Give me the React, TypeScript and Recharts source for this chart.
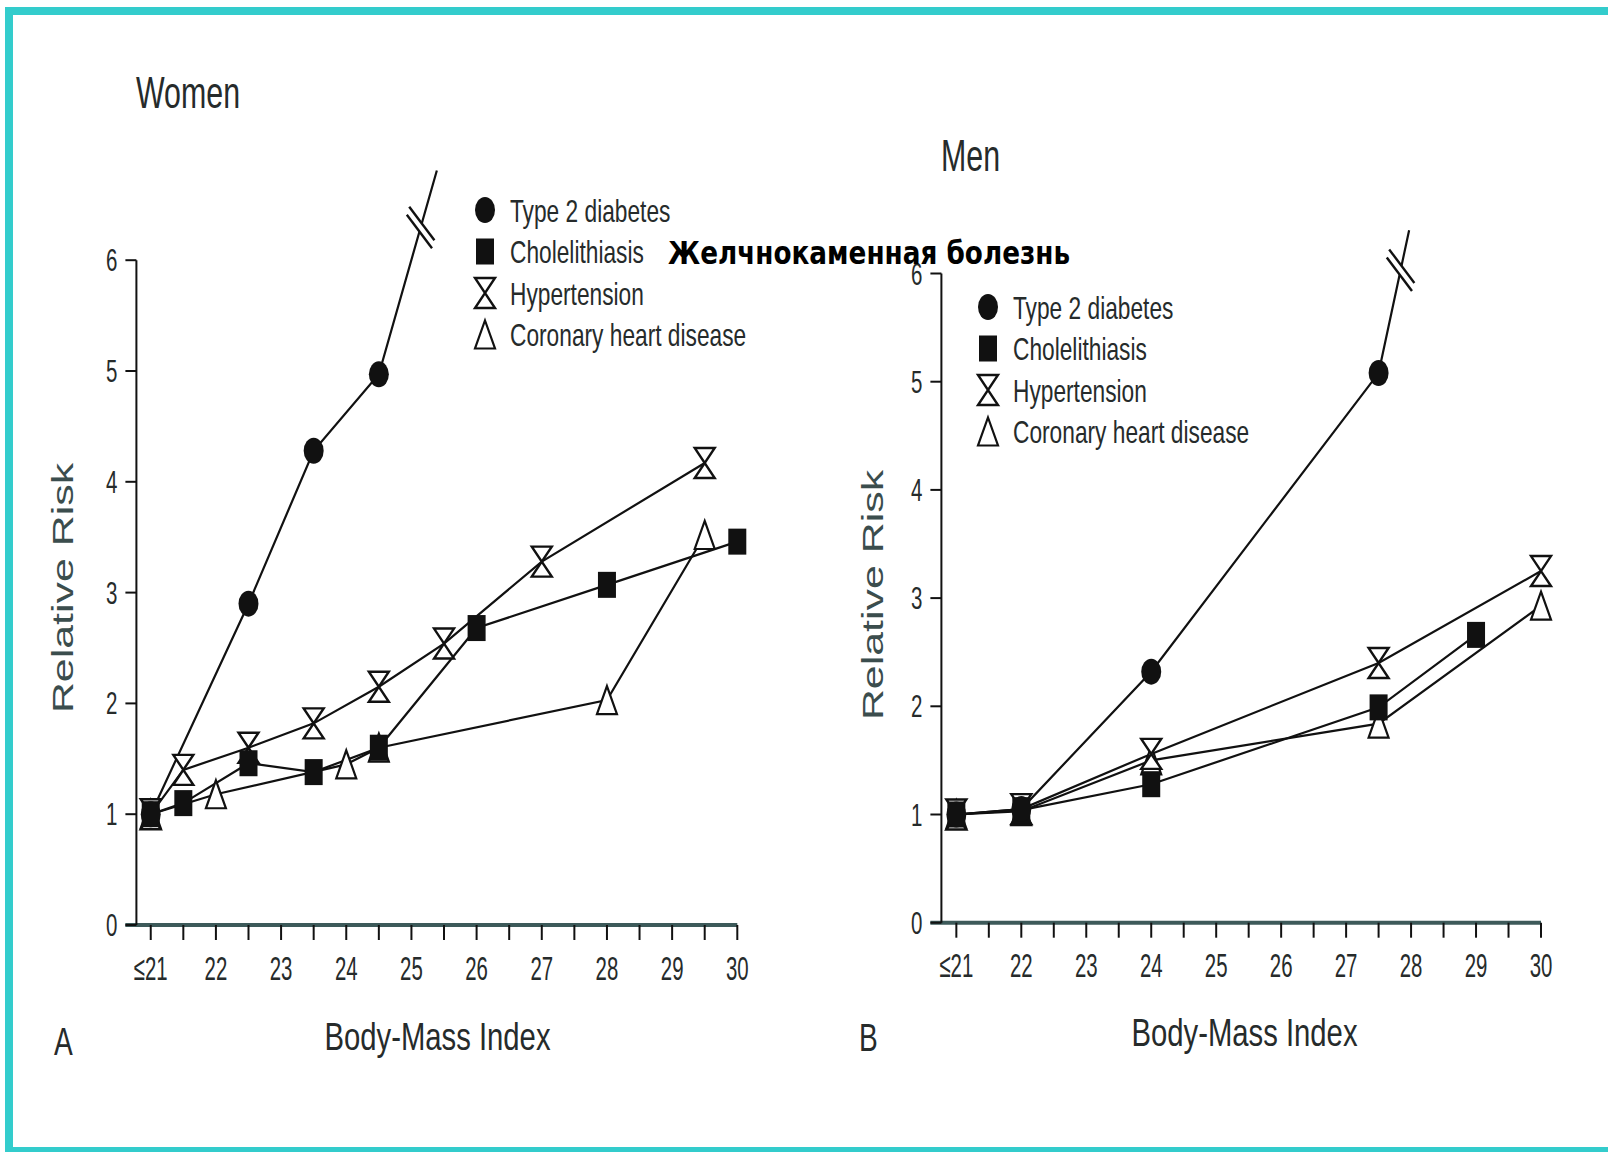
import { LineChart, Line, XAxis, YAxis, ReferenceLine, ReferenceDot, Legend } from 'recharts'

// values (relative risk by BMI)
const BMI_TICKS = [21, 21.5, 22, 22.5, 23, 23.5, 24, 24.5, 25, 25.5, 26, 26.5, 27, 27.5, 28, 28.5, 29, 29.5, 30]
const RR_TICKS = [0, 1, 2, 3, 4, 5, 6]

const W_DIAB_BMI = [21, 22.5, 23.5, 24.5]
const W_DIAB_RR = [1.0, 2.9, 4.28, 4.97]
const W_DIAB_TAIL = [25.39, 6.81]
const W_CHOL_BMI = [21, 21.5, 22.5, 23.5, 24.5, 26, 28, 30]
const W_CHOL_RR = [1.0, 1.1, 1.46, 1.38, 1.6, 2.68, 3.07, 3.46]
const W_HYP_BMI = [21, 21.5, 22.5, 23.5, 24.5, 25.5, 27, 29.5]
const W_HYP_RR = [1.0, 1.4, 1.6, 1.82, 2.15, 2.54, 3.28, 4.17]
const W_CHD_BMI = [21, 22, 24, 24.5, 28, 29.5]
const W_CHD_RR = [1.0, 1.18, 1.45, 1.6, 2.03, 3.52]

const M_DIAB_BMI = [21, 22, 24, 27.5]
const M_DIAB_RR = [1.0, 1.05, 2.32, 5.08]
const M_DIAB_TAIL = [27.97, 6.4]
const M_CHOL_BMI = [21, 22, 24, 27.5, 29]
const M_CHOL_RR = [1.0, 1.04, 1.28, 1.99, 2.66]
const M_HYP_BMI = [21, 22, 24, 27.5, 30]
const M_HYP_RR = [1.0, 1.05, 1.56, 2.4, 3.25]
const M_CHD_BMI = [21, 22, 24, 27.5, 30]
const M_CHD_RR = [1.0, 1.03, 1.5, 1.84, 2.93]

const LEGEND_ORDER = ['Type 2 diabetes', 'Cholelithiasis', 'Hypertension', 'Coronary heart disease']
const KIND: Record<string, string> = {
  'Type 2 diabetes': 'circle',
  Cholelithiasis: 'square',
  Hypertension: 'hourglass',
  'Coronary heart disease': 'triangle',
}

const FONT = '"Liberation Sans", Arial, Helvetica, sans-serif'
const INK = '#262b2b'
const BREAK_AT = 0.72

const toPoints = (bmi: number[], rr: number[], tail?: number[]) => {
  const pts = bmi.map((b, i) => ({ bmi: b, rr: rr[i], tail: false }))
  if (tail) pts.push({ bmi: tail[0], rr: tail[1], tail: true })
  return pts
}

const breakPoint = (bmi: number[], rr: number[], tail: number[]) => {
  const b0 = bmi[bmi.length - 1]
  const r0 = rr[rr.length - 1]
  return { x: b0 + BREAK_AT * (tail[0] - b0), y: r0 + BREAK_AT * (tail[1] - r0) }
}

function CondText({ x, y, size, sx = 0.62, anchor = 'start', fill = INK, children }: any) {
  return (
    <text
      transform={`translate(${x} ${y}) scale(${sx} 1)`}
      fontFamily={FONT}
      fontSize={size}
      textAnchor={anchor}
      fill={fill}
    >
      {children}
    </text>
  )
}

function Marker({ kind, cx, cy }: { kind: string; cx: number; cy: number }) {
  if (kind === 'circle') return <ellipse cx={cx} cy={cy} rx={10} ry={13} fill="#111" />
  if (kind === 'square') return <rect x={cx - 9} y={cy - 13} width={18} height={26} fill="#111" />
  if (kind === 'hourglass') {
    const w = 10
    const h = 15
    return (
      <path
        d={`M${cx - w},${cy - h}H${cx + w}L${cx - w},${cy + h}H${cx + w}Z`}
        fill="#fff"
        stroke="#111"
        strokeWidth={2.4}
      />
    )
  }
  return (
    <path
      d={`M${cx},${cy - 14}L${cx + 10},${cy + 14}H${cx - 10}Z`}
      fill="#fff"
      stroke="#111"
      strokeWidth={2.2}
    />
  )
}

const dotFor = (kind: string) => (p: any) => {
  if (p.payload?.tail || p.cx == null) return <g key={`${kind}-${p.index}`} />
  return <Marker key={`${kind}-${p.index}`} kind={kind} cx={p.cx} cy={p.cy} />
}

function BreakMark(p: any) {
  const { cx, cy } = p
  const ux = 0.6
  const uy = 0.8
  const half = 21
  const ox = 1.2
  const oy = -4
  const seg = (dx: number, dy: number) => (
    <line
      x1={cx + dx - ux * half}
      y1={cy + dy - uy * half}
      x2={cx + dx + ux * half}
      y2={cy + dy + uy * half}
      stroke="#111"
      strokeWidth={2.4}
    />
  )
  return (
    <g>
      <polygon
        points={`${cx + ox - ux * 8},${cy + oy - uy * 8} ${cx + ox + ux * 8},${cy + oy + uy * 8} ${cx - ox + ux * 8},${cy - oy + uy * 8} ${cx - ox - ux * 8},${cy - oy - uy * 8}`}
        fill="#fff"
      />
      {seg(ox, oy)}
      {seg(-ox, -oy)}
    </g>
  )
}

const XTick = (dyBase: number) => (props: any) => {
  const { x, y, payload } = props
  const v = payload.value
  if (!Number.isInteger(v)) return <g />
  return (
    <CondText x={x} y={y + dyBase} size={34} sx={0.6} anchor="middle">
      {v === 21 ? '≤21' : String(v)}
    </CondText>
  )
}

const YTick = (props: any) => {
  const { x, y, payload } = props
  return (
    <CondText x={x} y={y + 11} size={32} sx={0.64} anchor="end">
      {payload.value}
    </CondText>
  )
}

function LegendBox(props: any) {
  const payload = props.payload ?? []
  const rows = [...payload].sort(
    (a: any, b: any) => LEGEND_ORDER.indexOf(a.value) - LEGEND_ORDER.indexOf(b.value),
  )
  return (
    <svg width={300} height={170} style={{ overflow: 'visible', display: 'block' }}>
      {rows.map((e: any, i: number) => (
        <g key={e.value}>
          <Marker kind={KIND[e.value]} cx={15} cy={20 + i * 41.5} />
          <CondText x={40} y={20 + i * 41.5 + 11.5} size={32} sx={0.71}>
            {e.value}
          </CondText>
        </g>
      ))}
    </svg>
  )
}

interface PanelProps {
  width: number
  margin: { top: number; right: number; bottom: number; left: number }
  xMin: number
  tickDy: number
  legendPos: { left: number; top: number }
  diab: any[]
  chol: any[]
  hyp: any[]
  chd: any[]
  brk: { x: number; y: number }
}

function Panel({ width, margin, xMin, tickDy, legendPos, diab, chol, hyp, chd, brk }: PanelProps) {
  return (
    <LineChart width={width} height={1152} margin={margin}>
      <XAxis
        type="number"
        dataKey="bmi"
        domain={[xMin, 30]}
        ticks={BMI_TICKS}
        interval={0}
        height={60}
        tickSize={15}
        tickMargin={0}
        tickLine={{ stroke: '#111', strokeWidth: 2 }}
        axisLine={false}
        tick={XTick(tickDy)}
      />
      <YAxis
        type="number"
        domain={[0, 7]}
        ticks={RR_TICKS}
        interval={0}
        width={50}
        tickSize={11}
        tickMargin={8}
        tickLine={{ stroke: '#111', strokeWidth: 2 }}
        axisLine={false}
        tick={YTick}
      />
      <ReferenceLine
        segment={[{ x: xMin - 0.17, y: 0 }, { x: 30, y: 0 }]}
        stroke="#3d5a5a"
        strokeWidth={4}
        ifOverflow="visible"
      />
      <ReferenceLine
        segment={[{ x: xMin, y: 0 }, { x: xMin, y: 6 }]}
        stroke="#111"
        strokeWidth={2}
        ifOverflow="visible"
      />
      <Line data={chd} dataKey="rr" name="Coronary heart disease" stroke="#111" strokeWidth={2.2} dot={dotFor('triangle')} activeDot={false} isAnimationActive={false} />
      <Line data={hyp} dataKey="rr" name="Hypertension" stroke="#111" strokeWidth={2.2} dot={dotFor('hourglass')} activeDot={false} isAnimationActive={false} />
      <Line data={chol} dataKey="rr" name="Cholelithiasis" stroke="#111" strokeWidth={2.2} dot={dotFor('square')} activeDot={false} isAnimationActive={false} />
      <Line data={diab} dataKey="rr" name="Type 2 diabetes" stroke="#111" strokeWidth={2.2} dot={dotFor('circle')} activeDot={false} isAnimationActive={false} />
      <ReferenceDot x={brk.x} y={brk.y} r={1} shape={BreakMark} ifOverflow="visible" />
      <Legend
        layout="vertical"
        align="center"
        verticalAlign="middle"
        wrapperStyle={{ left: legendPos.left, top: legendPos.top, width: 300, height: 170 }}
        content={LegendBox}
      />
    </LineChart>
  )
}

export default function App() {
  return (
    <div style={{ position: 'absolute', left: 0, top: 0, width: 1608, height: 1152, overflow: 'hidden', background: '#fff' }}>
      <div
        style={{
          position: 'absolute',
          left: 5,
          top: 7,
          width: 1650,
          height: 1148,
          boxSizing: 'border-box',
          border: '8px solid #33cccc',
        }}
      />
      <div style={{ position: 'absolute', left: 0, top: 0 }}>
        <Panel
          width={780}
          margin={{ top: 149.4, right: 42.7, bottom: 167, left: 86.4 }}
          xMin={20.78}
          tickDy={40}
          legendPos={{ left: 470, top: 190 }}
          diab={toPoints(W_DIAB_BMI, W_DIAB_RR, W_DIAB_TAIL)}
          chol={toPoints(W_CHOL_BMI, W_CHOL_RR)}
          hyp={toPoints(W_HYP_BMI, W_HYP_RR)}
          chd={toPoints(W_CHD_BMI, W_CHD_RR)}
          brk={breakPoint(W_DIAB_BMI, W_DIAB_RR, W_DIAB_TAIL)}
        />
      </div>
      <div style={{ position: 'absolute', left: 800, top: 0 }}>
        <Panel
          width={808}
          margin={{ top: 165.3, right: 67, bottom: 169.3, left: 91.4 }}
          xMin={20.77}
          tickDy={39.5}
          legendPos={{ left: 173, top: 287 }}
          diab={toPoints(M_DIAB_BMI, M_DIAB_RR, M_DIAB_TAIL)}
          chol={toPoints(M_CHOL_BMI, M_CHOL_RR)}
          hyp={toPoints(M_HYP_BMI, M_HYP_RR)}
          chd={toPoints(M_CHD_BMI, M_CHD_RR)}
          brk={breakPoint(M_DIAB_BMI, M_DIAB_RR, M_DIAB_TAIL)}
        />
      </div>
      <svg
        width={1608}
        height={1152}
        style={{ position: 'absolute', left: 0, top: 0, pointerEvents: 'none' }}
      >
        <CondText x={136} y={108} size={44} sx={0.69}>Women</CondText>
        <CondText x={941} y={171} size={44} sx={0.69}>Men</CondText>
        <text transform="translate(73 588) rotate(-90) scale(1.43 1)" fontFamily={FONT} fontSize={30} textAnchor="middle" fill="#3b4d4d">
          Relative Risk
        </text>
        <text transform="translate(883 595) rotate(-90) scale(1.43 1)" fontFamily={FONT} fontSize={30} textAnchor="middle" fill="#3b4d4d">
          Relative Risk
        </text>
        <CondText x={54} y={1055} size={38} sx={0.74}>A</CondText>
        <CondText x={437.5} y={1050} size={38} sx={0.77} anchor="middle">Body-Mass Index</CondText>
        <CondText x={859} y={1051} size={38} sx={0.74}>B</CondText>
        <CondText x={1244.5} y={1046} size={38} sx={0.77} anchor="middle">Body-Mass Index</CondText>
        <text
          x={668}
          y={264}
          fontFamily='"DejaVu Sans", "Noto Sans", sans-serif'
          fontWeight="bold"
          fontSize={32}
          textLength={402}
          lengthAdjust="spacingAndGlyphs"
          fill="#000"
        >
          Желчнокаменная болезнь
        </text>
      </svg>
    </div>
  )
}
